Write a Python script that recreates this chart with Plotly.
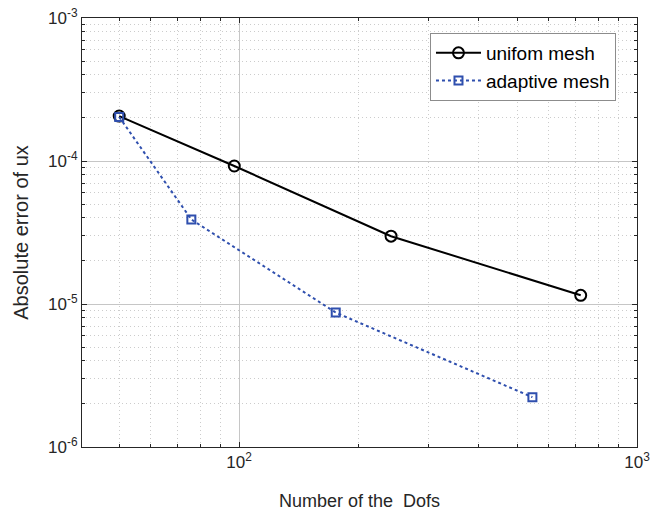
import plotly.graph_objects as go

dofs_uniform = [50, 97.3, 241, 722]
err_uniform = [2.06e-4, 9.23e-5, 2.98e-5, 1.15e-5]
dofs_adaptive = [50, 75.9, 175, 546]
err_adaptive = [2.03e-4, 3.9e-5, 8.71e-6, 2.23e-6]

x_tickvals = [100, 1000]
x_ticktext = ["10<sup>2</sup>", "10<sup>3</sup>"]
y_tickvals = [1e-6, 1e-5, 1e-4, 1e-3]
y_ticktext = ["10<sup>-6</sup>", "10<sup>-5</sup>", "10<sup>-4</sup>", "10<sup>-3</sup>"]

font_family = "Liberation Sans, Arial, sans-serif"
blue = "#2F4FAE"

fig = go.Figure()
fig.add_trace(go.Scatter(
    x=dofs_uniform, y=err_uniform, name="unifom mesh", mode="lines+markers",
    line=dict(color="black", width=2),
    marker=dict(symbol="circle-open", size=11, color="black", line=dict(width=2)),
))
fig.add_trace(go.Scatter(
    x=dofs_adaptive, y=err_adaptive, name="adaptive mesh", mode="lines+markers",
    line=dict(color=blue, width=2, dash="dot"),
    marker=dict(symbol="square-open", size=8, color=blue, line=dict(width=2)),
))

axis_common = dict(
    type="log", showline=True, mirror="allticks", linecolor="#262626", linewidth=1,
    ticks="inside", ticklen=5, tickcolor="#262626", automargin=False,
    showgrid=True, gridcolor="#c6c6c6", gridwidth=1, zeroline=False,
    tickfont=dict(family=font_family, size=17, color="#262626"),
    minor=dict(dtick="D1", ticks="inside", ticklen=3, tickcolor="#262626",
               showgrid=True, gridcolor="#cccccc", griddash="1px,3px", gridwidth=1),
)

fig.update_layout(
    width=651, height=513,
    margin=dict(l=82, r=14, t=18, b=66),
    paper_bgcolor="white", plot_bgcolor="white",
    font=dict(family=font_family, color="#262626"),
    xaxis=dict(axis_common, range=[1.6055, 3], tickvals=x_tickvals, ticktext=x_ticktext,
               title=dict(text="Number of the  Dofs", font=dict(size=18), standoff=22)),
    yaxis=dict(axis_common, range=[-6, -3], tickvals=y_tickvals, ticktext=y_ticktext,
               title=dict(text="Absolute error of ux", font=dict(size=20), standoff=14)),
    legend=dict(x=0.627, y=0.965, xanchor="left", yanchor="top",
                bgcolor="white", bordercolor="#8c8c8c", borderwidth=1,
                font=dict(family=font_family, size=19, color="black"),
                itemwidth=45, tracegroupgap=0),
    showlegend=True,
)

fig.write_html("out.html")
